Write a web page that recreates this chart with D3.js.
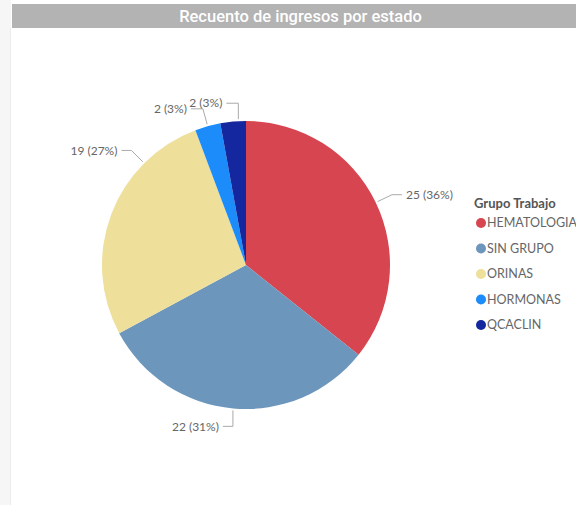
<!DOCTYPE html>
<html>
<head>
<meta charset="utf-8">
<script src="https://cdn.jsdelivr.net/npm/d3@7"></script>
<style>
    body { margin: 0; background: #fff; }
    svg { display: block; }
</style>
</head>
<body>
<div id="chart"></div>
<script>
// datos del grafico
var categories = ["HEMATOLOGIA", "SIN GRUPO", "ORINAS", "HORMONAS", "QCACLIN"];
var counts = [25, 22, 19, 2, 2];
var colors = ["#D64550", "#6C96BB", "#EEDF9A", "#1C8CFB", "#14279E"];
var title = "Recuento de ingresos por estado";
var legendTitle = "Grupo Trabajo";

var app = app || {};

app.PieModule = (function () {
    'use strict';

    var FONT = "Lato, 'Segoe UI', sans-serif";

    var init = function (baseElement) {
        var config = configure(d3.select(baseElement));
        structure(config);
        slices(config);
        labels(config);
        legend(config);
        return config;
    };

    var configure = function (base) {
        var data = categories.map(function (c, i) {
            return { name: c, value: counts[i] };
        });
        return {
            base: base,
            width: 576,
            height: 505,
            cx: 246,
            cy: 265,
            r: 144,
            data: data,
            total: d3.sum(counts),
            color: d3.scaleOrdinal().domain(categories).range(colors)
        };
    };

    var structure = function (config) {
        var svg = config.base.append("svg")
            .attr("width", config.width)
            .attr("height", config.height);

        // fondo gris a la izquierda
        svg.append("rect")
            .attr("x", 0).attr("y", 0)
            .attr("width", 11).attr("height", config.height)
            .attr("fill", "#f6f6f6");
        svg.append("rect")
            .attr("x", 10).attr("y", 28)
            .attr("width", 1).attr("height", config.height - 28)
            .attr("fill", "#ececec");

        // barra de titulo
        svg.append("rect")
            .attr("x", 12).attr("y", 4)
            .attr("width", config.width - 12).attr("height", 24)
            .attr("fill", "#b3b3b3");
        svg.append("text")
            .attr("x", 300.5).attr("y", 21.5)
            .attr("text-anchor", "middle")
            .attr("font-family", "Roboto, sans-serif")
            .attr("font-size", 16.5)
            .attr("font-weight", 500)
            .attr("fill", "#fff")
            .text(title);

        config.svg = svg;
        config.group = svg.append("g")
            .attr("transform", "translate(" + config.cx + "," + config.cy + ")");
    };

    var slices = function (config) {
        var pie = d3.pie().sort(null).value(function (d) { return d.value; });
        var arc = d3.arc().innerRadius(0).outerRadius(config.r);
        config.arcs = pie(config.data);
        config.group.selectAll("path.slice")
            .data(config.arcs)
            .enter()
            .append("path")
            .attr("class", "slice")
            .attr("d", arc)
            .attr("fill", function (d) { return config.color(d.data.name); });
    };

    var labels = function (config) {
        // lineas guia: angulo de salida (grados, null = centro del sector), modo y tramo horizontal
        var r = config.r, elbowR = 162;
        var guides = {
            "HEMATOLOGIA": { angle: null, mode: "radial", endDx: 10 },
            "SIN GRUPO": { angle: null, mode: "vertical", endDx: -10 },
            "ORINAS": { angle: 315, mode: "radial", endDx: -10 },
            "HORMONAS": { angle: null, mode: "radial", endDx: -12 },
            "QCACLIN": { angle: 357, mode: "vertical", endDx: -12 }
        };

        var g = config.group.selectAll("g.lbl")
            .data(config.arcs)
            .enter()
            .append("g")
            .attr("class", "lbl");

        g.each(function (d) {
            var gd = guides[d.data.name];
            var a = gd.angle === null ? (d.startAngle + d.endAngle) / 2 : gd.angle * Math.PI / 180;
            var p0 = [Math.sin(a) * (r + 2), -Math.cos(a) * (r + 2)];
            var p1;
            if (gd.mode === "vertical") {
                p1 = [p0[0], -Math.cos(a) * elbowR];
            } else {
                p1 = [Math.sin(a) * elbowR, -Math.cos(a) * elbowR];
            }
            var p2 = [p1[0] + gd.endDx, p1[1]];
            var side = gd.endDx > 0 ? 1 : -1;
            var sel = d3.select(this);
            sel.append("polyline")
                .attr("points", [p0, p1, p2].map(function (p) { return p.join(","); }).join(" "))
                .attr("fill", "none")
                .attr("stroke", "#aaaaaa")
                .attr("stroke-width", 1);
            sel.append("text")
                .attr("x", p2[0] + side * 4)
                .attr("y", p2[1])
                .attr("dy", "0.35em")
                .attr("text-anchor", side > 0 ? "start" : "end")
                .attr("font-family", FONT)
                .attr("font-size", 12)
                .attr("fill", "#666")
                .text(d.data.value + " (" + Math.round(d.data.value / config.total * 100) + "%)");
        });
    };

    var legend = function (config) {
        var lg = config.svg.append("g")
            .attr("transform", "translate(474,0)");
        lg.append("text")
            .attr("x", 0).attr("y", 207.5)
            .attr("font-family", FONT)
            .attr("font-size", 13)
            .attr("font-weight", "bold")
            .attr("fill", "#555")
            .text(legendTitle);

        var y = d3.scalePoint().domain(categories).range([223, 325]);
        var items = lg.selectAll("g.item")
            .data(categories)
            .enter()
            .append("g")
            .attr("class", "item")
            .attr("transform", function (d) { return "translate(0," + y(d) + ")"; });
        items.append("circle")
            .attr("cx", 7).attr("cy", 0).attr("r", 5)
            .attr("fill", function (d) { return config.color(d); });
        items.append("text")
            .attr("x", 13).attr("y", 0).attr("dy", "0.35em")
            .attr("font-family", FONT)
            .attr("font-size", 12.5)
            .attr("fill", "#666")
            .text(function (d) { return d; });
    };

    return { init: init };
}());

app.PieModule.init("#chart");
</script>
</body>
</html>
